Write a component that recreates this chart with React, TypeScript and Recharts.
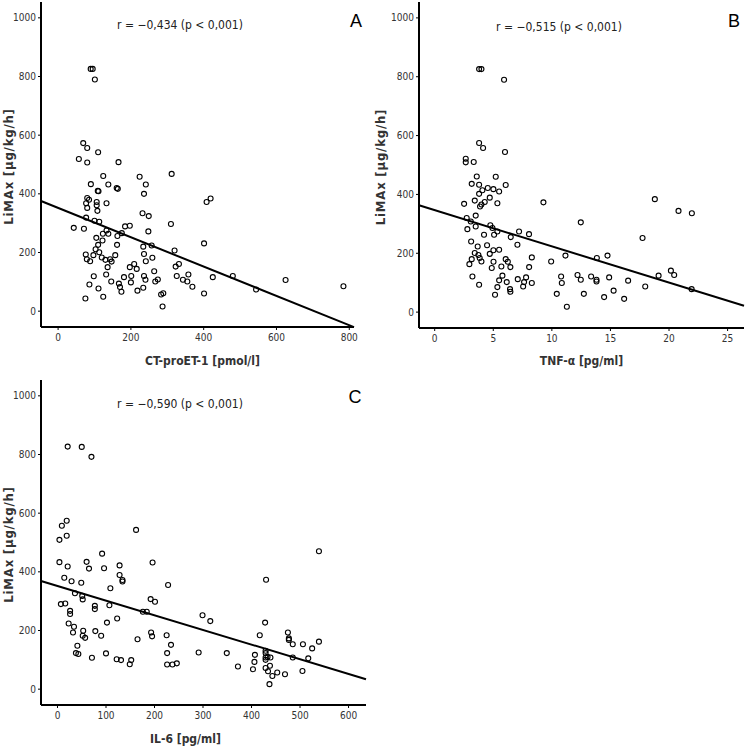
import React from 'react';
import { ScatterChart, Scatter, XAxis, YAxis, ReferenceLine } from 'recharts';

// ---------- Data ----------
const yTicks = [0, 200, 400, 600, 800, 1000];
const yDomain = [-54, 1054];

// Panel A: CT-proET-1 [pmol/l] vs LiMAx
const aX = [89.5, 95, 101, 69, 80, 110, 57, 80, 166, 124, 90, 138, 109, 111, 161, 164, 80, 85, 77, 106, 106, 80, 133, 108, 77, 100, 113, 43, 71, 133, 138, 123, 105, 175, 184, 197, 163, 122, 110, 162, 103, 113, 76, 97, 120, 79, 88, 130, 143, 157, 147, 136, 132, 98, 146, 86, 111, 167, 170, 174, 124, 75, 181, 197, 209, 201, 200, 216, 218, 224, 241, 236, 232, 249, 248, 234, 257, 236, 241, 259, 236, 240, 234, 264, 267, 274, 283, 289, 287, 312, 310, 320, 323, 332, 326, 343, 355, 358, 369, 401, 401, 408, 419, 425, 480, 544, 625, 784];
const aY = [826, 826, 790, 573, 556, 542, 519, 507, 508, 461, 433, 432, 410, 409, 420, 417, 386, 380, 368, 372, 361, 352, 368, 342, 319, 308, 305, 284, 281, 275, 264, 264, 250, 266, 289, 291, 256, 241, 226, 226, 211, 201, 193, 191, 183, 177, 170, 175, 177, 191, 169, 150, 125, 119, 101, 91, 77, 94, 82, 66, 49, 43, 116, 150, 161, 120, 98, 144, 70, 458, 432, 400, 334, 324, 272, 220, 224, 195, 170, 182, 120, 107, 80, 136, 101, 108, 57, 61, 16, 468, 297, 207, 152, 161, 120, 107, 101, 125, 83, 231, 60, 372, 384, 116, 120, 74, 106, 85];
const aXTicks = [0, 200, 400, 600, 800];
const aXDomain = [-47, 813];
const aFit = { intercept: 352, slope: -0.5 };

// Panel B: TNF-α [pg/ml] vs LiMAx
const bX = [3.79, 3.99, 5.92, 3.79, 4.13, 6.0, 2.65, 2.65, 3.33, 3.59, 5.21, 3.16, 3.79, 6.06, 4.53, 5.01, 5.5, 4.07, 3.79, 3.42, 4.27, 5.35, 2.51, 3.87, 3.99, 4.7, 3.5, 2.73, 3.08, 2.79, 3.5, 4.75, 4.93, 5.35, 5.07, 4.21, 3.11, 6.49, 7.2, 8.05, 7.06, 3.67, 4.47, 4.7, 5.01, 5.5, 3.42, 3.73, 3.84, 3.99, 3.16, 2.96, 4.87, 5.02, 5.69, 6.06, 6.24, 6.46, 8.29, 8.06, 3.22, 3.79, 5.78, 5.5, 6.15, 5.35, 5.15, 6.43, 6.46, 7.09, 7.8, 7.63, 7.55, 8.29, 9.28, 9.94, 10.79, 10.85, 10.42, 11.16, 11.28, 12.47, 12.19, 12.47, 12.73, 13.35, 13.84, 13.81, 13.81, 14.75, 14.89, 14.46, 15.27, 16.51, 16.17, 17.74, 17.97, 18.79, 19.11, 20.16, 20.44, 20.81, 21.95, 21.93];
const bY = [826, 826, 790, 575, 558, 544, 521, 509, 510, 461, 460, 436, 433, 432, 422, 418, 410, 414, 402, 379, 374, 370, 368, 359, 366, 389, 328, 320, 308, 282, 291, 295, 286, 274, 263, 263, 240, 255, 274, 265, 229, 223, 227, 198, 210, 212, 201, 194, 184, 172, 180, 163, 150, 171, 155, 180, 171, 153, 186, 153, 121, 93, 124, 108, 102, 85, 59, 78, 69, 112, 118, 102, 87, 99, 373, 172, 121, 99, 62, 192, 18, 305, 126, 110, 62, 121, 184, 110, 104, 192, 118, 51, 73, 107, 45, 252, 87, 384, 124, 141, 126, 344, 336, 78];
const bXTicks = [0, 5, 10, 15, 20, 25];
const bXDomain = [-1.34, 26.4];
const bFit = { intercept: 346.5, slope: -12.3 };

// Panel C: IL-6 [pg/ml] vs LiMAx
const cX = [21, 50, 70, 19, 9, 19, 4, 162, 4, 21, 60, 65, 92, 96, 128, 128, 134, 134, 196, 14, 29, 49, 36, 51, 52, 109, 7, 16, 26, 26, 77, 77, 107, 102, 123, 176, 184, 192, 201, 228, 23, 34, 32, 53, 57, 52, 78, 90, 41, 38, 43, 71, 100, 122, 131, 149, 152, 165, 193, 195, 225, 234, 226, 226, 237, 246, 299, 315, 291, 349, 372, 417, 430, 428, 403, 406, 407, 429, 429, 429, 429, 429, 433, 439, 434, 438, 437, 443, 453, 469, 475, 477, 477, 485, 485, 505, 506, 517, 525, 539, 539];
const cY = [827, 826, 792, 574, 557, 523, 509, 543, 433, 418, 434, 411, 462, 412, 422, 389, 372, 367, 432, 380, 368, 363, 327, 318, 306, 344, 290, 292, 267, 256, 284, 273, 286, 227, 241, 264, 264, 307, 298, 355, 224, 213, 193, 199, 175, 182, 198, 182, 148, 123, 120, 107, 122, 102, 99, 85, 99, 170, 193, 180, 184, 151, 123, 84, 84, 88, 252, 232, 125, 123, 77, 184, 373, 227, 68, 93, 117, 131, 123, 108, 100, 72, 110, 108, 61, 80, 17, 45, 57, 51, 193, 173, 168, 153, 108, 62, 153, 105, 139, 162, 470];
const cXTicks = [0, 100, 200, 300, 400, 500, 600];
const cXDomain = [-34, 636];
const cFit = { intercept: 352, slope: -0.5 };

const yLabel = 'LiMAx [µg/kg/h]';

// ---------- Styles ----------
const narrow = '"Liberation Sans Narrow", "DejaVu Sans Condensed", "Arial Narrow", sans-serif';
const tickStyle = { fontSize: 10, fill: '#333', fontFamily: narrow };
const xLabelStyle = { fontSize: 12, fontWeight: 700, fill: '#333', fontFamily: narrow };
const yLabelStyle = { fontSize: 13, fontWeight: 700, fill: '#333', fontFamily: narrow, letterSpacing: 0.8, textAnchor: 'middle' };

const OpenCircle = (props: any) => {
  const { cx, cy } = props;
  if (cx == null || cy == null) return null;
  return <circle cx={cx} cy={cy} r={2.5} fill="none" stroke="#000" strokeWidth={1.1} />;
};

type PanelProps = {
  xs: number[];
  ys: number[];
  xTicks: number[];
  xDomain: number[];
  fit: { intercept: number; slope: number };
  xLabel: string;
  width: number;
  height: number;
  margin: { top: number; right: number; left: number; bottom: number };
  yAxisWidth: number;
  xAxisHeight: number;
  xLabelOffset: number;
  xLabelDx: number;
};

const Panel = (p: PanelProps) => {
  const data = p.xs.map((x, i) => ({ x, y: p.ys[i] }));
  const x0 = p.xDomain[0];
  const x1 = p.xDomain[1];
  const seg = [
    { x: x0, y: p.fit.intercept + p.fit.slope * x0 },
    { x: x1, y: p.fit.intercept + p.fit.slope * x1 },
  ];
  return (
    <ScatterChart width={p.width} height={p.height} margin={p.margin}>
      <XAxis
        type="number"
        dataKey="x"
        domain={p.xDomain}
        ticks={p.xTicks}
        allowDataOverflow
        height={p.xAxisHeight}
        tick={tickStyle}
        tickSize={3}
        tickMargin={4}
        axisLine={{ stroke: '#000', strokeWidth: 2 }}
        tickLine={{ stroke: '#000' }}
        label={{ value: p.xLabel, position: 'insideBottom', offset: p.xLabelOffset, dx: p.xLabelDx, style: xLabelStyle }}
      />
      <YAxis
        type="number"
        dataKey="y"
        domain={yDomain}
        ticks={yTicks}
        allowDataOverflow
        width={p.yAxisWidth}
        tick={tickStyle}
        tickSize={3}
        tickMargin={2}
        axisLine={{ stroke: '#000', strokeWidth: 2 }}
        tickLine={{ stroke: '#000' }}
        label={{ value: yLabel, angle: -90, position: 'insideLeft', offset: 8, dy: 2, style: yLabelStyle }}
      />
      <ReferenceLine segment={seg} stroke="#000" strokeWidth={2} ifOverflow="visible" />
      <Scatter data={data} shape={OpenCircle} isAnimationActive={false} />
    </ScatterChart>
  );
};

const annStyle: React.CSSProperties = {
  position: 'absolute',
  fontFamily: narrow,
  fontSize: 12,
  color: '#222',
  whiteSpace: 'nowrap',
  transform: 'translate(-50%, -50%)',
};
const letterStyle: React.CSSProperties = {
  position: 'absolute',
  fontFamily: '"Liberation Sans", Arial, sans-serif',
  fontSize: 18,
  color: '#000',
  transform: 'translate(-50%, -50%)',
};

export default function App() {
  return (
    <div style={{ position: 'absolute', left: 0, top: 0, width: 745, height: 746, background: '#fff', overflow: 'hidden' }}>
      <div style={{ position: 'absolute', left: 0, top: 0 }}>
        <Panel
          xs={aX} ys={aY} xTicks={aXTicks} xDomain={aXDomain} fit={aFit}
          xLabel="CT-proET-1 [pmol/l]"
          width={372} height={370}
          margin={{ top: 2, right: 18, left: 0, bottom: 0 }}
          yAxisWidth={41} xAxisHeight={43} xLabelOffset={5} xLabelDx={5}
        />
      </div>
      <div style={{ position: 'absolute', left: 372, top: 0 }}>
        <Panel
          xs={bX} ys={bY} xTicks={bXTicks} xDomain={bXDomain} fit={bFit}
          xLabel="TNF-α [pg/ml]"
          width={373} height={370}
          margin={{ top: 2, right: 1, left: 0, bottom: 0 }}
          yAxisWidth={47} xAxisHeight={42} xLabelOffset={5} xLabelDx={0}
        />
      </div>
      <div style={{ position: 'absolute', left: 0, top: 370 }}>
        <Panel
          xs={cX} ys={cY} xTicks={cXTicks} xDomain={cXDomain} fit={cFit}
          xLabel="IL-6 [pg/ml]"
          width={372} height={376}
          margin={{ top: 10, right: 6, left: 0, bottom: 0 }}
          yAxisWidth={41} xAxisHeight={41} xLabelOffset={3} xLabelDx={-18}
        />
      </div>
      <div style={{ ...annStyle, left: 180, top: 25 }}>r = −0,434 (p &lt; 0,001)</div>
      <div style={{ ...annStyle, left: 559, top: 27 }}>r = −0,515 (p &lt; 0,001)</div>
      <div style={{ ...annStyle, left: 180, top: 404 }}>r = −0,590 (p &lt; 0,001)</div>
      <div style={{ ...letterStyle, left: 356, top: 21 }}>A</div>
      <div style={{ ...letterStyle, left: 734, top: 21 }}>B</div>
      <div style={{ ...letterStyle, left: 355, top: 397 }}>C</div>
    </div>
  );
}
